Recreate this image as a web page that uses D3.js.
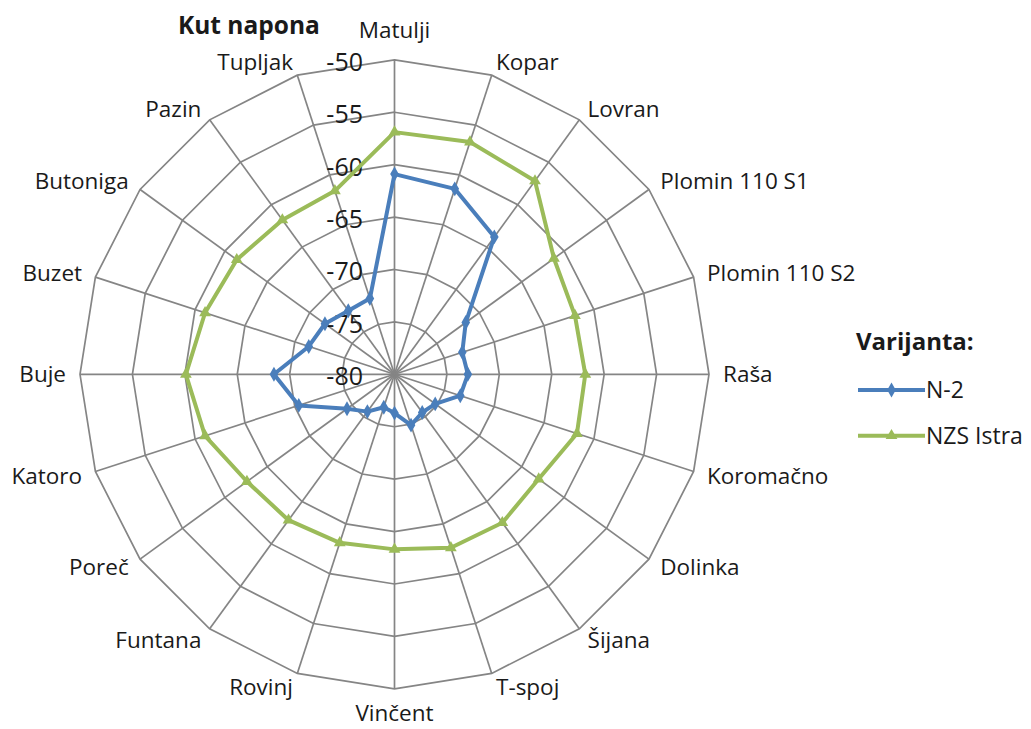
<!DOCTYPE html>
<html>
<head>
<meta charset="utf-8">
<script src="https://cdn.jsdelivr.net/npm/d3@7"></script>
<style>
  html, body { margin: 0; padding: 0; background: #ffffff; }
  svg { display: block; }
  text { font-family: "Open Sans", "Noto Sans", sans-serif; fill: #1a1a1a; }
</style>
</head>
<body>
<svg id="chart" width="1031" height="729"></svg>
<script>
// Voltage angle per substation, two network variants
const categories = ["Matulji", "Kopar", "Lovran", "Plomin 110 S1", "Plomin 110 S2", "Raša",
  "Koromačno", "Dolinka", "Šijana", "T-spoj", "Vinčent", "Rovinj", "Funtana", "Poreč",
  "Katoro", "Buje", "Buzet", "Butoniga", "Pazin", "Tupljak"];

const seriesNames = ["N-2", "NZS Istra"];

const valuesN2 = [-60.9, -61.4, -63.8, -71.6, -73.2, -73.0, -73.4, -75.2, -75.5, -74.9,
  -76.3, -76.7, -75.6, -74.4, -70.4, -68.5, -71.4, -71.8, -72.5, -72.4];

const valuesNZS = [-56.9, -56.7, -57.2, -61.2, -61.9, -61.8, -61.7, -63.0, -62.5, -62.6,
  -63.3, -63.1, -62.8, -62.6, -61.0, -60.1, -61.0, -61.4, -61.8, -61.6];

const tickValues = [-80, -75, -70, -65, -60, -55, -50];

const chartTitle = "Kut napona";
const legendTitle = "Varijanta:";

// Layout
const cx = 394.5, cy = 374.3, R = 314.5;
const colors = ["#4a7ebb", "#9bbb59"];
const gridColor = "#858585";

const svg = d3.select("#chart");

const r = d3.scaleLinear().domain([-80, -50]).range([0, R]);
const angle = d3.scaleLinear().domain([0, categories.length]).range([0, 2 * Math.PI]);

const pt = (i, radius) => {
  const a = angle(i);
  return [cx + radius * Math.sin(a), cy - radius * Math.cos(a)];
};

// Grid rings (polygons)
const gGrid = svg.append("g");
tickValues.filter(v => v > -80).forEach(v => {
  const pts = categories.map((_, i) => pt(i, r(v)));
  gGrid.append("polygon")
    .attr("points", pts.map(p => p.join(",")).join(" "))
    .attr("fill", "none")
    .attr("stroke", gridColor)
    .attr("stroke-width", 1.7);
});

// Spokes
categories.forEach((_, i) => {
  const [x, y] = pt(i, R);
  gGrid.append("line")
    .attr("x1", cx).attr("y1", cy).attr("x2", x).attr("y2", y)
    .attr("stroke", gridColor).attr("stroke-width", 1.7);
});

// Category labels
const catFs = 22.5;
categories.forEach((c, i) => {
  const a = angle(i);
  const s = Math.sin(a), co = Math.cos(a);
  const [x, y] = pt(i, R + 14);
  let anchor = "middle";
  if (s > 0.01) anchor = "start";
  else if (s < -0.01) anchor = "end";
  let yc = y;
  if (Math.abs(s) < 0.01) yc = co > 0 ? y - 16 : y + 10;
  svg.append("text")
    .attr("x", x)
    .attr("y", yc + 0.357 * catFs)
    .attr("text-anchor", anchor)
    .attr("font-size", catFs)
    .text(c);
});

// Radial axis tick labels
const tickFs = 25;
tickValues.forEach(v => {
  svg.append("text")
    .attr("x", cx - 31.5)
    .attr("y", cy - r(v) + 11)
    .attr("text-anchor", "end")
    .attr("font-size", tickFs)
    .text(String(v));
});

// Series
const lineGen = d3.line().curve(d3.curveLinearClosed);
const allSeries = [valuesN2, valuesNZS];
allSeries.forEach((vals, k) => {
  const pts = vals.map((v, i) => pt(i, r(v)));
  svg.append("path")
    .attr("d", lineGen(pts))
    .attr("fill", "none")
    .attr("stroke", colors[k])
    .attr("stroke-width", 4)
    .attr("stroke-linejoin", "round");
  const sym = d3.symbol().type(k === 0 ? d3.symbolDiamond : d3.symbolTriangle).size(k === 0 ? 64 : 60);
  svg.append("g").selectAll("path")
    .data(pts)
    .join("path")
    .attr("transform", d => `translate(${d[0]},${d[1]})`)
    .attr("d", sym)
    .attr("fill", colors[k]);
});

// Chart title
svg.append("text")
  .attr("x", 178)
  .attr("y", 33.5)
  .attr("font-size", 24.5)
  .attr("font-weight", "bold")
  .attr("fill", "#000")
  .text(chartTitle);

// Legend
const lg = svg.append("g");
lg.append("text")
  .attr("x", 856)
  .attr("y", 349.5)
  .attr("font-size", 24)
  .attr("font-weight", "bold")
  .attr("fill", "#000")
  .text(legendTitle);

seriesNames.forEach((name, k) => {
  const y = 390 + k * 45.7;
  lg.append("line")
    .attr("x1", 858).attr("x2", 925).attr("y1", y).attr("y2", y)
    .attr("stroke", colors[k]).attr("stroke-width", 4);
  const sym = d3.symbol().type(k === 0 ? d3.symbolDiamond : d3.symbolTriangle).size(k === 0 ? 64 : 60);
  lg.append("path")
    .attr("transform", `translate(891.5,${y})`)
    .attr("d", sym)
    .attr("fill", colors[k]);
  lg.append("text")
    .attr("x", 926)
    .attr("y", y + 0.357 * 23)
    .attr("font-size", 23)
    .text(name);
});
</script>
</body>
</html>
